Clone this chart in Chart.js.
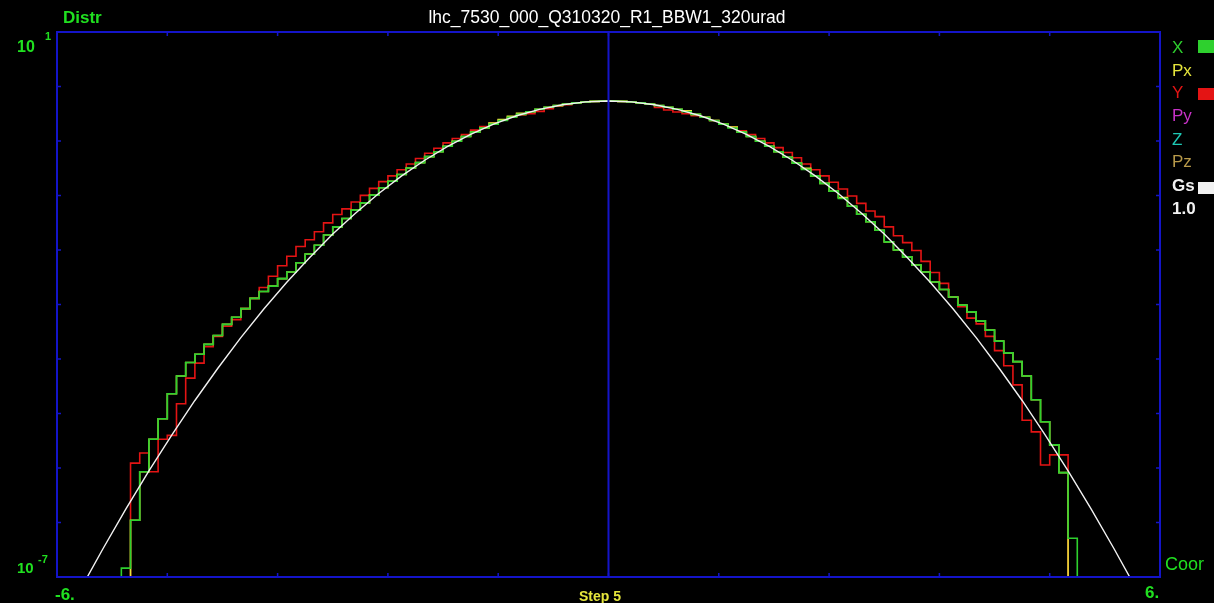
<!DOCTYPE html>
<html>
<head>
<meta charset="utf-8">
<script src="https://cdn.jsdelivr.net/npm/chart.js@4.4.1/dist/chart.umd.min.js"></script>
<style>
  html, body { margin: 0; padding: 0; background: #000; overflow: hidden; }
  canvas { display: block; }
</style>
</head>
<body>
<canvas id="distr" width="1214" height="603"></canvas>
<script>
// Histogram bin left edges (bin width 0.1); the last edge closes the final bin.
const binEdges = [
  -5.4, -5.3, -5.2, -5.1, -5.0, -4.9, -4.8, -4.7, -4.6, -4.5,
  -4.4, -4.3, -4.2, -4.1, -4.0, -3.9, -3.8, -3.7, -3.6, -3.5,
  -3.4, -3.3, -3.2, -3.1, -3.0, -2.9, -2.8, -2.7, -2.6, -2.5,
  -2.4, -2.3, -2.2, -2.1, -2.0, -1.9, -1.8, -1.7, -1.6, -1.5,
  -1.4, -1.3, -1.2, -1.1, -1.0, -0.9, -0.8, -0.7, -0.6, -0.5,
  -0.4, -0.3, -0.2, -0.1, 0.0, 0.1, 0.2, 0.3, 0.4, 0.5,
  0.6, 0.7, 0.8, 0.9, 1.0, 1.1, 1.2, 1.3, 1.4, 1.5,
  1.6, 1.7, 1.8, 1.9, 2.0, 2.1, 2.2, 2.3, 2.4, 2.5,
  2.6, 2.7, 2.8, 2.9, 3.0, 3.1, 3.2, 3.3, 3.4, 3.5,
  3.6, 3.7, 3.8, 3.9, 4.0, 4.1, 4.2, 4.3, 4.4, 4.5,
  4.6, 4.7, 4.8, 4.9, 5.0, 5.1
];

// X distribution
const distX = [
  0, 1.35e-7, 6.8e-7, 3.5e-6, 1.05e-5, 2.1e-5, 4.9e-5, 8.9e-5, 1.41e-4, 1.86e-4,
  2.6e-4, 3.5e-4, 5.1e-4, 6.5e-4, 8.7e-4, 1.23e-3, 1.55e-3, 1.86e-3, 2.4e-3, 3.0e-3,
  4.1e-3, 5.5e-3, 7.4e-3, 0.0105, 0.0138, 0.0183, 0.0243, 0.0310, 0.0403, 0.0518,
  0.0643, 0.0809, 0.1007, 0.121, 0.148, 0.175, 0.210, 0.249, 0.292, 0.339,
  0.390, 0.445, 0.501, 0.560, 0.618, 0.676, 0.733, 0.785, 0.834, 0.877,
  0.912, 0.940, 0.959, 0.968, 0.968, 0.959, 0.940, 0.912, 0.877, 0.834,
  0.785, 0.733, 0.676, 0.618, 0.560, 0.501, 0.445, 0.390, 0.339, 0.292,
  0.249, 0.210, 0.175, 0.145, 0.119, 0.0962, 0.0773, 0.060, 0.0461, 0.0359,
  0.0277, 0.0211, 0.0164, 0.0123, 8.3e-3, 6.3e-3, 5.0e-3, 3.8e-3, 3.0e-3, 2.14e-3,
  1.66e-3, 1.29e-3, 9.8e-4, 7.8e-4, 5.75e-4, 4.2e-4, 2.9e-4, 1.95e-4, 1.45e-4, 8.9e-5,
  4.0e-5, 1.9e-5, 8.7e-6, 3.4e-6, 3.7e-7, 0
];

// Px distribution
const distPx = [
  0, 0, 6.8e-7, 3.5e-6, 1.05e-5, 2.1e-5, 4.9e-5, 8.9e-5, 1.41e-4, 1.86e-4,
  2.6e-4, 3.5e-4, 5.1e-4, 6.5e-4, 8.7e-4, 1.23e-3, 1.55e-3, 1.86e-3, 2.4e-3, 3.0e-3,
  4.1e-3, 5.5e-3, 7.4e-3, 0.0105, 0.0138, 0.0183, 0.0243, 0.0310, 0.0403, 0.0518,
  0.0643, 0.0809, 0.1007, 0.121, 0.148, 0.175, 0.210, 0.249, 0.292, 0.339,
  0.390, 0.460, 0.519, 0.579, 0.640, 0.676, 0.733, 0.785, 0.834, 0.877,
  0.912, 0.940, 0.959, 0.968, 0.968, 0.959, 0.940, 0.912, 0.877, 0.834,
  0.785, 0.733, 0.700, 0.618, 0.560, 0.501, 0.445, 0.404, 0.339, 0.292,
  0.249, 0.210, 0.175, 0.145, 0.119, 0.0995, 0.0773, 0.060, 0.0461, 0.0372,
  0.0277, 0.0211, 0.0164, 0.0123, 8.3e-3, 6.3e-3, 5.0e-3, 3.8e-3, 3.0e-3, 2.14e-3,
  1.66e-3, 1.29e-3, 9.8e-4, 7.8e-4, 5.75e-4, 4.2e-4, 2.9e-4, 1.95e-4, 1.45e-4, 8.9e-5,
  4.0e-5, 1.9e-5, 8.7e-6, 3.4e-6, 0, 0
];

// Y distribution
const distY = [
  0, 0, 4.7e-6, 6.6e-6, 3.5e-6, 1.05e-5, 1.2e-5, 3.5e-5, 8.3e-5, 1.38e-4,
  2.4e-4, 3.4e-4, 4.8e-4, 6.0e-4, 8.7e-4, 1.23e-3, 1.78e-3, 2.6e-3, 3.7e-3, 5.1e-3,
  7.1e-3, 8.9e-3, 0.0117, 0.0158, 0.0209, 0.0253, 0.0320, 0.0400, 0.0507, 0.0637,
  0.0773, 0.0951, 0.1156, 0.139, 0.166, 0.197, 0.236, 0.273, 0.313, 0.363,
  0.408, 0.455, 0.513, 0.560, 0.604, 0.631, 0.684, 0.750, 0.815, 0.857,
  0.912, 0.940, 0.959, 0.968, 0.968, 0.959, 0.940, 0.912, 0.877, 0.778,
  0.716, 0.668, 0.631, 0.590, 0.560, 0.501, 0.445, 0.399, 0.355, 0.313,
  0.273, 0.236, 0.201, 0.170, 0.1426, 0.1156, 0.0951, 0.0773, 0.0622, 0.0495,
  0.0391, 0.0305, 0.0236, 0.0195, 0.0138, 0.0102, 8.1e-3, 6.2e-3, 4.3e-3, 2.95e-3,
  2.04e-3, 1.29e-3, 9.3e-4, 6.3e-4, 5.2e-4, 3.4e-4, 2.1e-4, 1.26e-4, 6.6e-5, 2.0e-5,
  1.35e-5, 4.4e-6, 6.2e-6, 6.2e-6, 0, 0
];

// Reference Gaussian (Gs, sigma 1.0)
const gaussX = [
  -5.75, -5.5, -5.25, -5.0, -4.75, -4.5, -4.25, -4.0, -3.75, -3.5, -3.25, -3.0,
  -2.75, -2.5, -2.25, -2.0, -1.75, -1.5, -1.25, -1.0, -0.75, -0.5, -0.25, 0,
  0.25, 0.5, 0.75, 1.0, 1.25, 1.5, 1.75, 2.0, 2.25, 2.5, 2.75, 3.0,
  3.25, 3.5, 3.75, 4.0, 4.25, 4.5, 4.75, 5.0, 5.25, 5.5, 5.75
];
const gaussY = [
  6.4e-8, 2.6e-7, 1.0e-6, 3.6e-6, 1.22e-5, 3.9e-5, 1.16e-4, 3.26e-4, 8.6e-4, 2.12e-3, 4.9e-3, 0.0108,
  0.0221, 0.0426, 0.0772, 0.131, 0.210, 0.315, 0.444, 0.589, 0.733, 0.856, 0.941, 0.970,
  0.941, 0.856, 0.733, 0.589, 0.444, 0.315, 0.210, 0.131, 0.0772, 0.0426, 0.0221, 0.0108,
  4.9e-3, 2.12e-3, 8.6e-4, 3.26e-4, 1.16e-4, 3.9e-5, 1.22e-5, 3.6e-6, 1.0e-6, 2.6e-7, 6.4e-8
];

// Axis ranges and labels
const xRange = [-6, 6];
const yRange = [1e-7, 10];
const xEndLabels = ['-6.', '6.'];
const yTopLabel = ['10', '1'];
const yBottomLabel = ['10', '-7'];
const titleText = 'lhc_7530_000_Q310320_R1_BBW1_320urad';
const cornerLabels = { distr: 'Distr', coor: 'Coor', step: 'Step 5' };
const legendNames = ['X', 'Px', 'Y', 'Py', 'Z', 'Pz', 'Gs', '1.0'];

// Styling
const COLORS = {
  X: '#2ed02e', Px: '#e6e63c', Y: '#e41414', Py: '#c832c8', Z: '#1ec8b4',
  Pz: '#b89a4a', Gs: '#f2f2f2', one: '#f2f2f2', frame: '#1414c8',
  label: '#20e020', step: '#e6e63c', title: '#ffffff'
};
const EMPTY_BIN = 1e-9; // drawn below the axis floor so empty bins drop to the frame

function stepPoints(values) {
  return binEdges.map((e, i) => ({ x: e, y: values[i] > 0 ? values[i] : EMPTY_BIN }));
}

const decorations = {
  id: 'decorations',
  beforeDraw(chart) {
    const ctx = chart.ctx;
    ctx.save();
    ctx.fillStyle = '#000';
    ctx.fillRect(0, 0, chart.width, chart.height);
    ctx.restore();
  },
  afterDatasetsDraw(chart) {
    const { ctx, chartArea: a, scales } = chart;
    ctx.save();
    ctx.strokeStyle = COLORS.frame;
    ctx.lineWidth = 2;
    // centre line at x = 0
    const x0 = scales.x.getPixelForValue(0);
    ctx.beginPath();
    ctx.moveTo(x0, a.top);
    ctx.lineTo(x0, a.bottom);
    ctx.stroke();
    // frame
    ctx.strokeRect(a.left, a.top, a.right - a.left, a.bottom - a.top);
    // inward tick marks
    ctx.lineWidth = 1.5;
    ctx.beginPath();
    for (let k = 1; k < 10; k++) {
      const px = scales.x.getPixelForValue(xRange[0] + k * (xRange[1] - xRange[0]) / 10);
      ctx.moveTo(px, a.top); ctx.lineTo(px, a.top + 4);
      ctx.moveTo(px, a.bottom); ctx.lineTo(px, a.bottom - 4);
      const py = a.top + k * (a.bottom - a.top) / 10;
      ctx.moveTo(a.left, py); ctx.lineTo(a.left + 4, py);
      ctx.moveTo(a.right, py); ctx.lineTo(a.right - 4, py);
    }
    ctx.stroke();
    ctx.restore();
  },
  afterDraw(chart) {
    const ctx = chart.ctx;
    ctx.save();
    ctx.textBaseline = 'alphabetic';

    // title
    ctx.fillStyle = COLORS.title;
    ctx.font = '17.5px "Liberation Sans", Arial, sans-serif';
    ctx.textAlign = 'center';
    ctx.fillText(titleText, 607, 23);

    // corner labels
    ctx.textAlign = 'left';
    ctx.fillStyle = COLORS.label;
    ctx.font = 'bold 17px "Liberation Sans", Arial, sans-serif';
    ctx.fillText(cornerLabels.distr, 63, 23);
    ctx.font = '18px "Liberation Sans", Arial, sans-serif';
    ctx.fillText(cornerLabels.coor, 1165, 570);

    // y-axis end labels
    ctx.font = 'bold 16px "Liberation Sans", Arial, sans-serif';
    ctx.fillText(yTopLabel[0], 17, 52);
    ctx.font = 'bold 11px "Liberation Sans", Arial, sans-serif';
    ctx.fillText(yTopLabel[1], 45, 40);
    ctx.font = 'bold 15px "Liberation Sans", Arial, sans-serif';
    ctx.fillText(yBottomLabel[0], 17, 573);
    ctx.font = 'bold 11px "Liberation Sans", Arial, sans-serif';
    ctx.fillText(yBottomLabel[1], 38, 563);

    // x-axis end labels
    ctx.font = 'bold 17px "Liberation Sans", Arial, sans-serif';
    ctx.fillText(xEndLabels[0], 55, 600);
    ctx.fillText(xEndLabels[1], 1145, 598);

    // step label
    ctx.fillStyle = COLORS.step;
    ctx.font = 'bold 14px "Liberation Sans", Arial, sans-serif';
    ctx.textAlign = 'center';
    ctx.fillText(cornerLabels.step, 600, 601);

    // legend column
    ctx.textAlign = 'left';
    const legendColors = [COLORS.X, COLORS.Px, COLORS.Y, COLORS.Py, COLORS.Z, COLORS.Pz, COLORS.Gs, COLORS.one];
    const baselines = [53, 76, 98, 121, 145, 167, 191, 214];
    legendNames.forEach((name, i) => {
      ctx.fillStyle = legendColors[i];
      ctx.font = (i >= 6 ? 'bold ' : '') + '17px "Liberation Sans", Arial, sans-serif';
      ctx.fillText(name, 1172, baselines[i]);
    });
    // colour swatches for the drawn series
    ctx.fillStyle = COLORS.X;  ctx.fillRect(1198, 40, 16, 13);
    ctx.fillStyle = COLORS.Y;  ctx.fillRect(1198, 88, 16, 12);
    ctx.fillStyle = COLORS.Gs; ctx.fillRect(1198, 182, 16, 12);
    ctx.restore();
  }
};

new Chart(document.getElementById('distr'), {
  type: 'line',
  data: {
    datasets: [
      { label: 'Gs', data: gaussX.map((x, i) => ({ x, y: gaussY[i] })),
        borderColor: COLORS.Gs, borderWidth: 1.4, pointRadius: 0, tension: 0 },
      { label: 'X', data: stepPoints(distX), stepped: 'before',
        borderColor: COLORS.X, borderWidth: 1.6, pointRadius: 0 },
      { label: 'Px', data: stepPoints(distPx), stepped: 'before',
        borderColor: COLORS.Px, borderWidth: 1.6, pointRadius: 0 },
      { label: 'Y', data: stepPoints(distY), stepped: 'before',
        borderColor: COLORS.Y, borderWidth: 1.6, pointRadius: 0 }
    ]
  },
  options: {
    responsive: false,
    animation: false,
    devicePixelRatio: 1,
    layout: { padding: { left: 57, right: 54, top: 32, bottom: 26 } },
    plugins: { legend: { display: false }, tooltip: { enabled: false }, title: { display: false } },
    scales: {
      x: { type: 'linear', min: xRange[0], max: xRange[1], display: false },
      y: { type: 'logarithmic', min: yRange[0], max: yRange[1], display: false }
    }
  },
  plugins: [decorations]
});
</script>
</body>
</html>
